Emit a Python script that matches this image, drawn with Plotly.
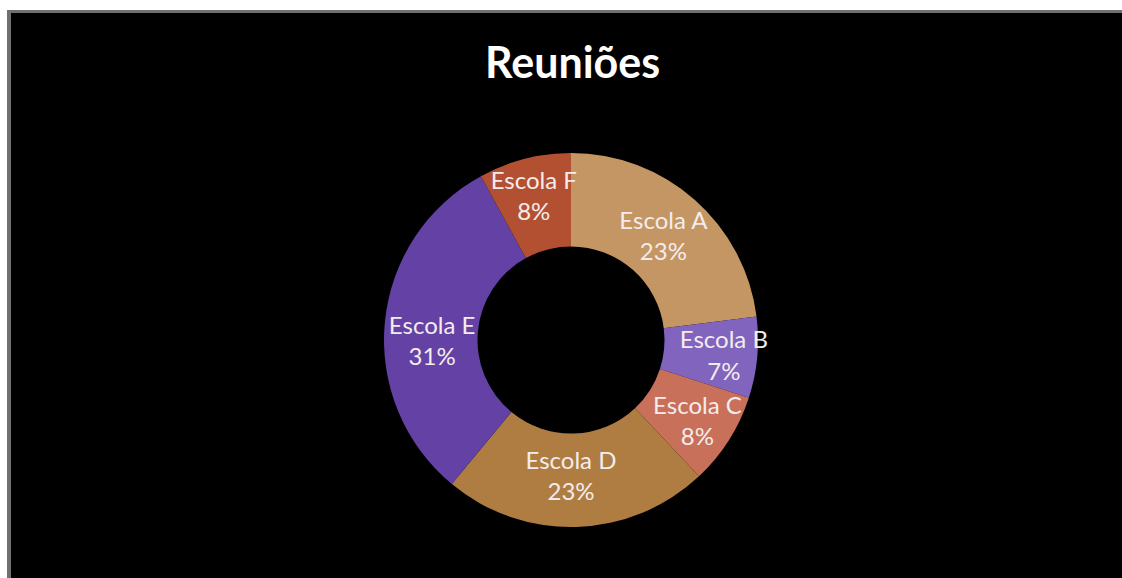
import plotly.graph_objects as go

categories = ["Escola A", "Escola B", "Escola C", "Escola D", "Escola E", "Escola F"]
values = [23, 7, 8, 23, 31, 8]
colors = ["#C49664", "#8064BE", "#C8705A", "#AF7D41", "#6441A5", "#B45032"]
title_text = "Reuniões"

W, H = 1122, 578
cx, cy, R = 571, 340, 187

fig = go.Figure(go.Pie(
    labels=categories,
    values=values,
    hole=0.5,
    sort=False,
    direction="clockwise",
    rotation=0,
    marker=dict(colors=colors, line=dict(width=0)),
    textinfo="label+percent",
    texttemplate="%{label}<br>%{percent:.0%}",
    textposition="inside",
    insidetextorientation="horizontal",
    textfont=dict(family="Lato, Open Sans, sans-serif", size=24, color="#F4ECEC"),
    showlegend=False,
    domain=dict(x=[(cx - R) / W, (cx + R) / W], y=[1 - (cy + R) / H, 1 - (cy - R) / H]),
))

fig.update_layout(
    width=W, height=H,
    margin=dict(l=0, r=0, t=0, b=0),
    paper_bgcolor="#000000",
    uniformtext=dict(minsize=24, mode="show"),
    shapes=[
        dict(type="rect", xref="paper", yref="paper", x0=0, x1=1, y0=1 - 10 / H, y1=1,
             fillcolor="#FFFFFF", line=dict(width=0), layer="below"),
        dict(type="rect", xref="paper", yref="paper", x0=0, x1=7 / W, y0=0, y1=1,
             fillcolor="#FFFFFF", line=dict(width=0), layer="below"),
        dict(type="rect", xref="paper", yref="paper", x0=7 / W, x1=1, y0=1 - 13 / H, y1=1 - 10 / H,
             fillcolor="#707070", line=dict(width=0), layer="below"),
        dict(type="rect", xref="paper", yref="paper", x0=7 / W, x1=11 / W, y0=0, y1=1 - 10 / H,
             fillcolor="#707070", line=dict(width=0), layer="below"),
    ],
    annotations=[dict(
        text="<b>" + title_text + "</b>", xref="paper", yref="paper",
        x=572 / W, y=1 - 62 / H, xanchor="center", yanchor="middle", showarrow=False,
        font=dict(family="Lato, Open Sans, sans-serif", size=43, color="#FFFFFF"),
    )],
)

fig.write_html("out.html")
